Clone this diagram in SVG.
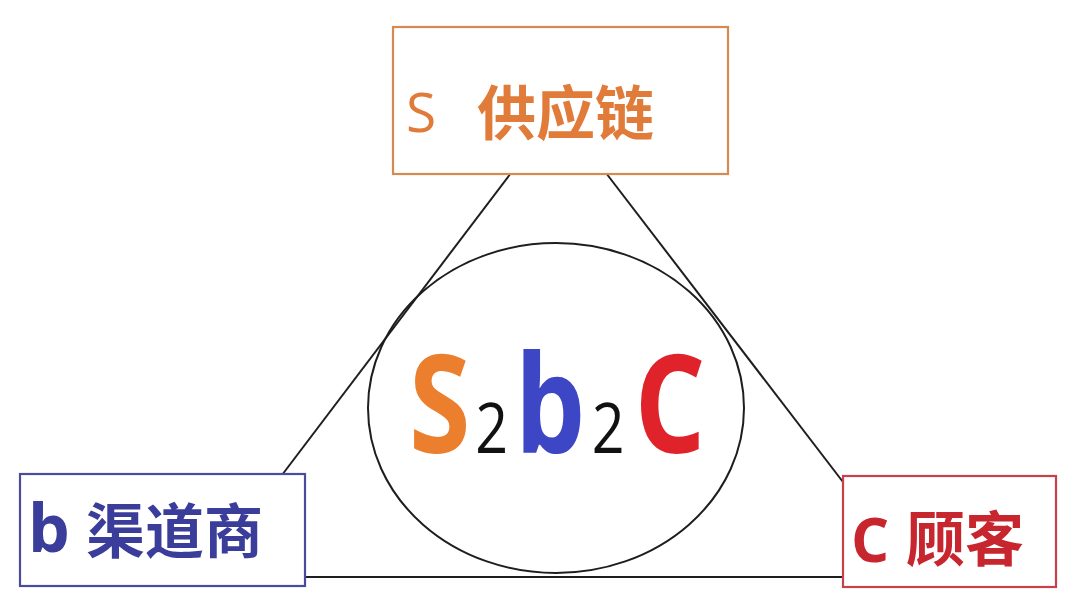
<svg xmlns="http://www.w3.org/2000/svg" width="1080" height="606" viewBox="0 0 1080 606">
<style>
.box{fill:#ffffff;stroke-width:2.2}
.conn{stroke:#1e1e1e;stroke-width:2;fill:none}
.lat{font-family:"Open Sans","Liberation Sans",sans-serif}
.cjk{font-family:"Noto Sans CJK SC","Noto Sans",sans-serif;font-weight:700}
.big{font-family:"Open Sans","Liberation Sans",sans-serif;font-weight:700}
.sub{font-weight:400;font-size:70px;fill:#111}
</style>
<rect width="1080" height="606" fill="#ffffff"/>
<g id="connectors">
<line class="conn" x1="511" y1="173" x2="282" y2="475"/>
<line class="conn" x1="606" y1="173" x2="843" y2="482"/>
<line class="conn" x1="305" y1="577" x2="843" y2="577"/>
</g>
<g id="node-center">
<ellipse cx="556" cy="408" rx="188" ry="165" fill="none" stroke="#1e1e1e" stroke-width="2"/>
<g transform="translate(413,453) scale(0.82,1)">
<text class="big" y="0" font-size="136"><tspan x="-5" fill="#ec7f2e">S</tspan><tspan x="76" class="sub">2</tspan><tspan x="124" fill="#3d46c4">b</tspan><tspan x="218" class="sub">2</tspan><tspan x="270" fill="#e0222a">C</tspan></text>
</g>
</g>
<g id="node-s">
<rect class="box" x="393" y="27" width="335" height="147" stroke="#d58a52"/>
<text class="lat" x="406" y="132" font-size="55" fill="#e07b3a">S</text>
<text class="cjk" x="477" y="135" font-size="59" fill="#e07b3a">供应链</text>
</g>
<g id="node-b">
<rect class="box" x="20" y="474" width="285" height="112" stroke="#4b4b9e"/>
<text class="big" x="28" y="552" font-size="66" fill="#3a3d9a">b</text>
<text class="cjk" x="86" y="553" font-size="59" fill="#3a3d9a">渠道商</text>
</g>
<g id="node-c">
<rect class="box" x="843" y="476" width="213" height="111" stroke="#c8414a"/>
<text class="big" x="851" y="562" font-size="60" fill="#c8262e">C</text>
<text class="cjk" x="906" y="561" font-size="59" fill="#c8262e">顾客</text>
</g>
</svg>
